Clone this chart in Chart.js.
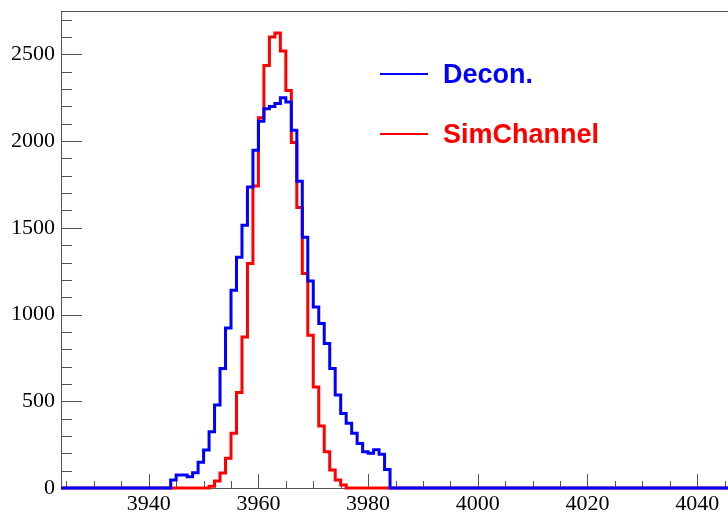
<!DOCTYPE html>
<html>
<head>
<meta charset="utf-8">
<script src="https://cdn.jsdelivr.net/npm/chart.js@4.4.0/dist/chart.umd.min.js"></script>
<style>
  html, body { margin: 0; padding: 0; background: #fff; overflow: hidden; }
  #wrap { width: 728px; height: 515px; overflow: hidden; }
</style>
</head>
<body>
<div id="wrap"><canvas id="myChart" width="752" height="515"></canvas></div>
<script>
// histogram range, bins are 1 unit wide
const xMin = 3924;
const xMax = 4050;
const yMax = 2750;

const deconLabel = 'Decon.';
const deconStart = 3944;
const deconCounts = [46, 75, 75, 65, 88, 148, 219, 324, 478, 689,
                     923, 1140, 1330, 1515, 1736, 1947, 2115, 2187, 2200, 2216,
                     2250, 2225, 2062, 1768, 1445, 1193, 1044, 949, 833, 689,
                     536, 430, 373, 315, 257, 209, 200, 220, 195, 107];

const simLabel = 'SimChannel';
const simStart = 3951;
const simCounts = [10, 40, 86, 171, 315, 550, 871, 1294, 1741, 2135,
                   2436, 2600, 2623, 2519, 2292, 1992, 1617, 1236, 881, 583,
                   357, 209, 104, 46, 17];

const xTickLabels = [3940, 3960, 3980, 4000, 4020, 4040];
const yTickLabels = [0, 500, 1000, 1500, 2000, 2500];

// one point per bin left edge, stepped line draws the outline
function toSteps(start, counts) {
  const pts = [];
  for (let x = xMin; x < xMax; x++) {
    const i = x - start;
    pts.push({ x: x, y: (i >= 0 && i < counts.length) ? counts[i] : 0 });
  }
  pts.push({ x: xMax, y: 0 });
  return pts;
}

// ROOT style frame: ticks drawn inwards + top line + legend box
const rootFrame = {
  id: 'rootFrame',
  beforeDatasetsDraw(chart) {
    const { ctx, chartArea: a, scales: { x, y } } = chart;
    ctx.save();
    ctx.strokeStyle = '#555';
    ctx.lineWidth = 1;
    ctx.beginPath();
    y.ticks.forEach(t => {
      const py = Math.round(y.getPixelForValue(t.value)) + 0.5;
      const len = yTickLabels.includes(t.value) ? 21 : 11;
      ctx.moveTo(a.left, py);
      ctx.lineTo(a.left + len, py);
    });
    x.ticks.forEach(t => {
      const px = Math.round(x.getPixelForValue(t.value)) + 0.5;
      const len = xTickLabels.includes(t.value) ? 14 : 7;
      ctx.moveTo(px, a.bottom);
      ctx.lineTo(px, a.bottom - len);
    });
    ctx.moveTo(a.left, a.top + 0.5);
    ctx.lineTo(a.right, a.top + 0.5);
    ctx.stroke();
    ctx.restore();
  },
  afterDraw(chart) {
    const ctx = chart.ctx;
    ctx.save();
    chart.data.datasets.forEach((ds, i) => {
      const ly = 74 + i * 60;
      ctx.strokeStyle = ds.borderColor;
      ctx.lineWidth = 2;
      ctx.beginPath();
      ctx.moveTo(380, ly);
      ctx.lineTo(428, ly);
      ctx.stroke();
      ctx.fillStyle = ds.borderColor;
      ctx.font = 'bold 27px "Liberation Sans", Arial, sans-serif';
      ctx.textBaseline = 'middle';
      ctx.fillText(ds.label, 443, ly + 2);
    });
    ctx.restore();
  }
};

const tickFont = { family: '"Liberation Serif", "Times New Roman", serif', size: 22 };

new Chart(document.getElementById('myChart'), {
  type: 'line',
  data: {
    datasets: [
      {
        label: deconLabel,
        data: toSteps(deconStart, deconCounts),
        borderColor: '#0000ff',
        borderWidth: 3,
        stepped: 'before',
        pointRadius: 0,
        fill: false,
        clip: 4
      },
      {
        label: simLabel,
        data: toSteps(simStart, simCounts),
        borderColor: '#ff0000',
        borderWidth: 3,
        stepped: 'before',
        pointRadius: 0,
        fill: false,
        clip: 4
      }
    ]
  },
  options: {
    responsive: false,
    animation: false,
    layout: { padding: { top: 11, left: 0, right: 0, bottom: 0 } },
    plugins: {
      legend: { display: false },
      tooltip: { enabled: false }
    },
    scales: {
      x: {
        type: 'linear',
        min: xMin,
        max: xMax,
        grid: { display: false, drawTicks: false },
        border: { display: true, color: '#555', width: 1 },
        ticks: {
          stepSize: 5,
          autoSkip: false,
          includeBounds: false,
          maxRotation: 0,
          padding: 3,
          color: '#000',
          font: tickFont,
          callback: v => xTickLabels.includes(v) ? String(v) : ''
        },
        afterFit: s => { s.height = 27; s.paddingLeft = 0; s.paddingRight = 0; }
      },
      y: {
        type: 'linear',
        min: 0,
        max: yMax,
        grid: { display: false, drawTicks: false },
        border: { display: true, color: '#555', width: 1 },
        ticks: {
          stepSize: 100,
          autoSkip: false,
          includeBounds: false,
          padding: 6,
          color: '#000',
          font: tickFont,
          callback: v => yTickLabels.includes(v) ? String(v) : ''
        },
        afterFit: s => { s.width = 61; s.paddingTop = 0; s.paddingBottom = 0; }
      }
    }
  },
  plugins: [rootFrame]
});
</script>
</body>
</html>
